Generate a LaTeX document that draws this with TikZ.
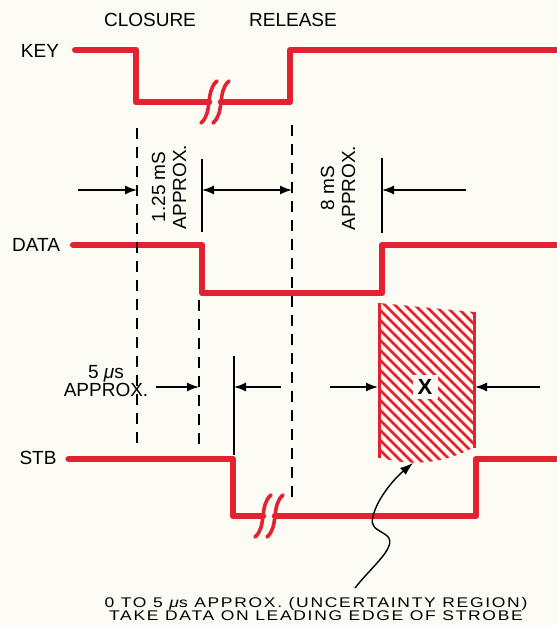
\documentclass[tikz,border=0pt]{standalone}
\usepackage{fontspec}
\setmainfont{Liberation Sans}
\usetikzlibrary{arrows.meta,calc}

\definecolor{sigred}{RGB}{226,34,48}
\definecolor{paper}{RGB}{252,251,244}

% two wavy strokes across a signal line
\newcommand{\breakmark}[2]{%
  \foreach \dx in {-6,6} {
    \draw[brk] ({#1+\dx-8},{#2+21}) .. controls ({#1+\dx+4},{#2+11}) and ({#1+\dx-4},{#2-11}) .. ({#1+\dx+8},{#2-21});
  }
}

\begin{document}
\begin{tikzpicture}[x=1pt, y=-1pt,
    signal/.style={draw=sigred, line width=6.5pt, line cap=round, line join=round},
    brk/.style={draw=sigred, line width=3.6pt, line cap=round},
    guide/.style={draw=black, line width=1.4pt, dash pattern=on 11pt off 8pt},
    tick/.style={draw=black, line width=1.4pt},
    dim/.style={draw=black, line width=1.4pt, -{Latex[length=12pt,width=9pt]}},
    lbl/.style={font=\fontsize{19}{21}\selectfont, inner sep=0pt}
]
    \fill[paper] (0,0) rectangle (557,625);
    \useasboundingbox (0,0) rectangle (557,625);

    % headings and signal names
    \node[lbl] (closure) at (150,20) {CLOSURE};
    \node[lbl] (release) at (293,20) {RELEASE};
    \node[lbl] (key) at (40,51) {KEY};
    \node[lbl] (data) at (36,245) {DATA};
    \node[lbl] (stb) at (38,458) {STB};

    % uncertainty region (hatched)
    \begin{scope}
        \clip (379,303) -- (474,312) -- (474,447) .. controls (455,458) and (420,470) .. (379,457) -- cycle;
        \foreach \c in {-100,-90,...,180} {
            \draw[sigred, line width=2.7pt] ({\c+290},290) -- ++(200,200);
        }
    \end{scope}
    \draw[sigred, line width=3pt] (379,303) -- (379,458);
    \draw[sigred, line width=3pt] (474,312) -- (474,448);
    \node[fill=paper, font=\fontsize{22}{22}\selectfont\bfseries, minimum width=25pt, minimum height=24pt, inner sep=0pt] (xmark) at (425,387) {X};

    % waveforms
    \draw[signal] (key.east) ++(16,-1) coordinate (keyS) -- (136,50) -- (136,102) -- (209,102);
    \draw[signal] (221,102) -- (290,102) -- (290,50) -- (560,50);
    \breakmark{215}{102}
    \draw[signal] (data.east) ++(13,0) coordinate (dataS) -- (202,245) -- (202,293) -- (382,293) -- (382,245) -- (560,245);
    \draw[signal] (stb.east) ++(12,1) coordinate (stbS) -- (233,459) -- (233,516) -- (263,516);
    \draw[signal] (275,516) -- (476,516) -- (476,459) -- (560,459);
    \breakmark{269}{516}

    % reference lines
    \draw[guide] (137,128) -- (137,445);
    \draw[guide] (199,300) -- (199,447);
    \draw[guide] (292,125) -- (292,503);
    \draw[tick] (202,159) -- (202,232);
    \draw[tick] (382,158) -- (382,233);
    \draw[tick] (234,356) -- (234,455);

    % timing dimensions
    \coordinate (a1) at (78,190);   \coordinate (a1e) at (137,190);
    \coordinate (a2) at (202,190);  \coordinate (a2e) at (292,190);
    \coordinate (a3) at (466,190);  \coordinate (a3e) at (382,190);
    \draw[dim] (a1) -- (a1e);
    \draw[dim, {Latex[length=12pt,width=9pt]}-{Latex[length=12pt,width=9pt]}] (a2) -- (a2e);
    \draw[dim] (a3) -- (a3e);

    \coordinate (b1) at (156,387);  \coordinate (b1e) at (199,387);
    \coordinate (b2) at (281,387);  \coordinate (b2e) at (234,387);
    \coordinate (b3) at (330,387);  \coordinate (b3e) at (378,387);
    \coordinate (b4) at (540,387);  \coordinate (b4e) at (475,387);
    \foreach \s/\e in {b1/b1e, b2/b2e, b3/b3e, b4/b4e} {
        \draw[dim] (\s) -- (\e);
    }

    \node[lbl, rotate=90, align=center] (t125) at (169,187) {1.25 mS\\APPROX.};
    \node[lbl, rotate=90, align=center] (t8) at (338,188) {8 mS\\APPROX.};
    \node[lbl, align=center, font=\fontsize{19}{18}\selectfont] (t5) at (106,381) {5 {\itshape μ}s\\APPROX.};

    % note and pointer
    \node[font=\fontsize{14}{13.5}\selectfont\addfontfeatures{FakeStretch=1.25,LetterSpace=12}, align=center, inner sep=0pt] (note) at (316,609) {0 TO 5 {\itshape μ}s APPROX. (UNCERTAINTY REGION)\\TAKE DATA ON LEADING EDGE OF STROBE};
    \coordinate (callS) at (355,588);
    \coordinate (callE) at (413,463);
    \draw[line width=1.4pt, -{Latex[length=13pt,width=9pt]}] (callS) .. controls (372,566) and (400,545) .. (386,535)
        .. controls (376,528) and (370,528) .. (373,516) .. controls (378,497) and (395,478) .. (callE);
\end{tikzpicture}
\end{document}
